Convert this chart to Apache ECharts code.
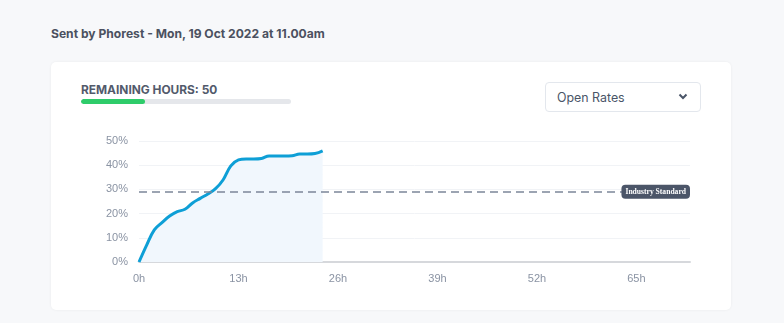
<!DOCTYPE html>
<html>
<head>
<meta charset="utf-8">
<script src="https://cdn.jsdelivr.net/npm/echarts@6/dist/echarts.min.js"></script>
<style>
  html, body { margin:0; padding:0; width:784px; height:323px; background:#f7f8fa; overflow:hidden; font-family:Inter, "Noto Sans", sans-serif; }
  #title { position:absolute; left:51px; top:26px; font-size:12.1px; font-weight:700; color:#4b5160; white-space:nowrap; }
  #card { position:absolute; left:51px; top:62px; width:680px; height:248px; background:#fff; border-radius:5px; box-shadow:0 0 3px rgba(0,0,0,0.06); }
  #rem { position:absolute; left:81px; top:82px; font-size:11.9px; font-weight:700; color:#525a6b; white-space:nowrap; }
  #bar { position:absolute; left:81px; top:99px; width:210px; height:5px; border-radius:3px; background:#e5e7eb; overflow:hidden; }
  #barfill { position:absolute; left:0; top:0; height:5px; border-radius:3px; background:#2ecc6a; }
  #dd { position:absolute; left:545px; top:82px; width:154px; height:28px; border:1px solid #e3e7ed; border-radius:4px; background:#fff; }
  #ddtext { position:absolute; left:11px; top:7px; font-size:12.4px; color:#4a5568; }
  #chev { position:absolute; right:12px; top:10px; }
  #chart { position:absolute; left:0; top:0; width:784px; height:323px; }
</style>
</head>
<body>
<div id="title">Sent by Phorest - Mon, 19 Oct 2022 at 11.00am</div>
<div id="card"></div>
<div id="rem">REMAINING HOURS: 50</div>
<div id="bar"><div id="barfill"></div></div>
<div id="dd"><div id="ddtext">Open Rates</div>
<svg id="chev" width="10" height="7" viewBox="0 0 10 7"><path d="M1.5 1.5 L5 5 L8.5 1.5" fill="none" stroke="#4a5568" stroke-width="2"/></svg></div>
<div id="chart"></div>
<script>
// ---- data ----
const totalHours = 72;
const remainingHours = 50;
const hours = Array.from({length: totalHours + 1}, (_, i) => i + 'h');
const openRates = [0, 7, 13.3, 16.3, 19, 20.8, 21.8, 24.4, 26.3, 28.1, 30.3, 34, 39.7, 42.2, 42.6, 42.6, 42.8, 43.8, 43.8, 43.8, 43.9, 44.6, 44.6, 44.8, 45.9];
const industryStandard = 29;
const yTicks = [0, 10, 20, 30, 40, 50];

document.getElementById('barfill').style.width = ((totalHours - remainingHours) / totalHours * 210) + 'px';

const chart = echarts.init(document.getElementById('chart'));
chart.setOption({
  animation: false,
  grid: { left: 139, right: 94, top: 141, bottom: 61 },
  xAxis: {
    type: 'category',
    data: hours,
    boundaryGap: false,
    axisLine: { lineStyle: { color: '#d6d8dc', width: 2 } },
    axisTick: { show: false },
    axisLabel: { interval: 12, color: '#8a93a3', fontSize: 11, margin: 11, fontFamily: 'Liberation Sans, Arial, sans-serif' },
    splitLine: { show: false }
  },
  yAxis: {
    type: 'value',
    min: yTicks[0], max: yTicks[yTicks.length - 1], interval: 10,
    axisLine: { show: false },
    axisTick: { show: false },
    axisLabel: { formatter: '{value}%', color: '#8a93a3', fontSize: 11, margin: 11, fontFamily: 'Liberation Sans, Arial, sans-serif' },
    splitLine: { lineStyle: { color: '#f1f3f6', width: 1 } }
  },
  series: [{
    type: 'line',
    data: openRates,
    smooth: 0.4,
    symbol: 'none',
    lineStyle: { color: '#0e9fd6', width: 3 },
    areaStyle: { color: '#f1f7fd', opacity: 1 },
    markLine: {
      silent: true,
      symbol: 'none',
      label: { show: false },
      lineStyle: { type: [8, 5], color: '#7c8699', width: 1.5 },
      data: [{ yAxis: industryStandard }]
    },
    markPoint: {
      silent: true,
      symbol: 'circle',
      symbolSize: 0,
      data: [{ coord: [hours[totalHours], industryStandard], value: 'Industry Standard' }],
      label: {
        show: true,
        position: 'left',
        distance: 0,
        formatter: 'Industry Standard',
        color: '#fff',
        fontFamily: 'Liberation Serif, Times New Roman, serif',
        fontWeight: 'bold',
        fontSize: 7.6,
        lineHeight: 8,
        backgroundColor: '#4b5568',
        borderRadius: 4,
        padding: [3, 4, 3, 4]
      }
    }
  }]
});
</script>
</body>
</html>
